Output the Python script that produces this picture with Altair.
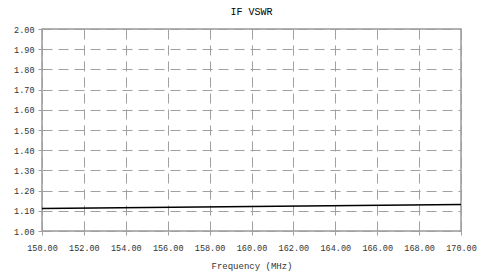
import altair as alt
import pandas as pd

freq = [150, 155, 160, 165, 170]
vswr = [1.112, 1.116, 1.121, 1.126, 1.131]
x_ticks = [150, 152, 154, 156, 158, 160, 162, 164, 166, 168, 170]
y_ticks = [1.0, 1.1, 1.2, 1.3, 1.4, 1.5, 1.6, 1.7, 1.8, 1.9, 2.0]

df = pd.DataFrame({"f": freq, "v": vswr})
FONT = "Liberation Mono"

chart = alt.Chart(df).mark_line(color="black", strokeWidth=1.5).encode(
    x=alt.X("f:Q", scale=alt.Scale(domain=[150, 170], nice=False),
            axis=alt.Axis(values=x_ticks, format=".2f", title="Frequency (MHz)",
                          grid=True, gridDash=[10, 6], gridColor="#a0a0a0",
                          tickSize=4, tickColor="#a0a0a0", domain=False,
                          labelOverlap=False, labelFlush=False,
                          labelPadding=8, titlePadding=10)),
    y=alt.Y("v:Q", scale=alt.Scale(domain=[1.0, 2.0], nice=False),
            axis=alt.Axis(values=y_ticks, format=".2f", title=None,
                          grid=True, gridDash=[10, 6], gridColor="#a0a0a0",
                          tickSize=4, tickColor="#a0a0a0", domain=False,
                          labelOverlap=False, labelFlush=False,
                          labelPadding=4)),
).properties(
    width=419, height=202,
    title=alt.TitleParams("IF VSWR", font=FONT, fontSize=10, fontWeight="normal", offset=8),
    autosize=alt.AutoSizeParams(type="none"),
    padding={"left": 34, "top": 21, "right": 17, "bottom": 42},
).configure_axis(
    labelFont=FONT, labelFontSize=8.5, labelColor="#333333",
    titleFont=FONT, titleFontSize=9, titleFontWeight="normal", titleColor="#333333",
).configure_view(
    stroke="#999999", strokeWidth=1.5
)

chart.save("out.html", embed_options={"renderer": "svg", "actions": False})
